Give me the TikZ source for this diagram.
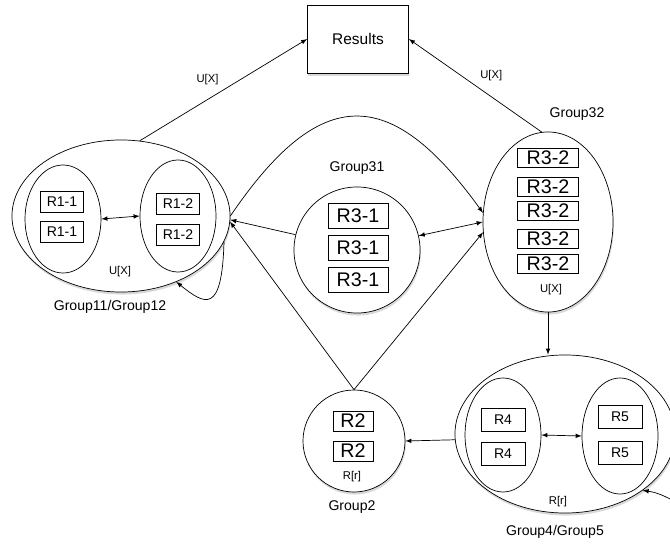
\documentclass[tikz,border=0pt]{standalone}
\usepackage{fontspec}
\setmainfont{Liberation Sans}
\usetikzlibrary{shapes.geometric,shadows}

\begin{document}
\begin{tikzpicture}[x=0.025cm,y=-0.025cm,>=latex,line width=0.5pt,
  grp/.style={ellipse,draw,fill=white,inner sep=0pt,
    drop shadow={opacity=0.3,shadow xshift=0.6pt,shadow yshift=-1.8pt}},
  sub/.style={ellipse,draw,inner sep=0pt},
  rbox/.style={draw,fill=white,inner sep=0pt,minimum width=1.07cm,minimum height=0.52cm,
    font=\fontsize{10}{12}\selectfont},
  bigbox/.style={draw,fill=white,inner sep=0pt,minimum width=1.5cm,minimum height=0.62cm,
    font=\fontsize{14}{16}\selectfont},
  lbl/.style={font=\fontsize{10}{12}\selectfont},
  tag/.style={font=\fontsize{8}{10}\selectfont}]

\useasboundingbox (0,0) rectangle (670,545);

% results
\node[draw,fill=white,minimum width=2.525cm,minimum height=1.7cm,
  drop shadow={opacity=0.3,shadow xshift=0.6pt,shadow yshift=-1.8pt},
  font=\fontsize{11}{13}\selectfont] (res) at (358,39) {Results};

% group 11/12
\node[grp,minimum width=5.45cm,minimum height=3.8cm] (g1) at (121,216) {};
\node[sub,minimum width=1.9cm,minimum height=2.7cm] (g11) at (63,219) {};
\node[sub,minimum width=1.9cm,minimum height=2.8cm] (g12) at (178,216) {};
\node[rbox] (r11a) at (62,202) {R1-1};
\node[rbox] (r11b) at (62,232) {R1-1};
\node[rbox] (r12a) at (178,204) {R1-2};
\node[rbox] (r12b) at (178,235) {R1-2};
\node[tag] (ux1) at (120,272) {U[X]};
\node[lbl] (l1) at (110,307) {Group11/Group12};

% group 31
\node[grp,minimum width=3.15cm,minimum height=3.15cm] (g31) at (357,250) {};
\node[bigbox] (r31a) at (358,216) {R3-1};
\node[bigbox] (r31b) at (358,248) {R3-1};
\node[bigbox] (r31c) at (358,280) {R3-1};
\node[lbl] (l31) at (357,168) {Group31};

% group 32
\node[grp,minimum width=3.25cm,minimum height=4.5cm] (g32) at (548,222) {};
\foreach \y/\n in {158/a,187/b,211/c,239/d,264/e}
  \node[bigbox,minimum width=1.525cm,minimum height=0.47cm] (r32\n) at (548,\y) {R3-2};
\node[tag] (ux32) at (551,290) {U[X]};
\node[lbl] (l32) at (577,114) {Group32};

% group 2
\node[grp,minimum width=2.55cm,minimum height=2.55cm] (g2) at (354,441) {};
\node[bigbox,minimum width=1cm,minimum height=0.5cm] (r2a) at (353,421) {R2};
\node[bigbox,minimum width=1cm,minimum height=0.5cm] (r2b) at (353,451) {R2};
\node[tag] (rr2) at (352,477) {R[r]};
\node[lbl] (l2) at (352,507) {Group2};

% group 4/5
\node[grp,minimum width=5.5cm,minimum height=3.95cm] (g45) at (565,434) {};
\node[sub,minimum width=1.9cm,minimum height=2.85cm] (g4) at (503,435) {};
\node[sub,minimum width=1.9cm,minimum height=2.9cm] (g5) at (620,436) {};
\node[rbox,minimum width=1.1cm,minimum height=0.57cm] (r4a) at (503,420) {R4};
\node[rbox,minimum width=1.1cm,minimum height=0.57cm] (r4b) at (503,454) {R4};
\node[rbox,minimum width=1.1cm,minimum height=0.57cm] (r5a) at (620,417) {R5};
\node[rbox,minimum width=1.1cm,minimum height=0.57cm] (r5b) at (620,453) {R5};
\node[tag] (rr45) at (558,502) {R[r]};
\node[lbl] (l45) at (555,532) {Group4/Group5};

% connectors
\draw[->] (g1.76) -- node[midway,above left,tag] {U[X]} (res.west);
\draw[->] (g32.94) -- node[midway,above right,tag] {U[X]} (res.east);
\draw[<->] (g11.east) -- (g12.west);
\draw[<->] (g4.east) -- (g5.west);
\draw[->] (g31.166) -- (g1.-2);
\draw[<->] (g31.13) -- (g32.180);
\draw[->] (g1.0) .. controls (320,84) and (390,84) .. (g32.172);
\draw[->] (g2.north) -- (g1.-3);
\draw[->] (g2.north) -- (g32.189);
\draw[->] (g32.south) -- (g32.south |- g45.north);
\draw[->] (g45.183) -- (g2.east);
\draw[->] (g1.-14) .. controls (222,315) and (205,305) .. (g1.-50);
\coordinate (in45) at (672,500);
\draw[->] (in45) to[bend right=10] (g45.-36);

\end{tikzpicture}
\end{document}
